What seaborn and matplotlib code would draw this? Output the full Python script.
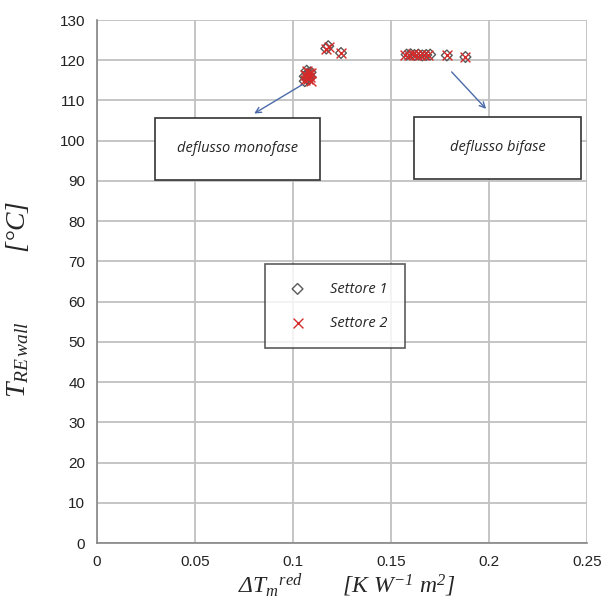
import numpy as np
import pandas as pd
import matplotlib
matplotlib.use("Agg")
import matplotlib.pyplot as plt
import seaborn as sns
from matplotlib.patches import Rectangle

# values
s1_x = [0.106, 0.107, 0.108, 0.109, 0.107, 0.108, 0.106, 0.109, 0.1075,
        0.117, 0.118, 0.1245,
        0.158, 0.160, 0.162, 0.164, 0.166, 0.168, 0.170, 0.1785, 0.188]
s1_y = [114.8, 115.5, 116.3, 117.0, 117.4, 115.2, 116.0, 115.8, 116.7,
        122.9, 123.5, 121.8,
        121.4, 121.5, 121.3, 121.4, 121.2, 121.3, 121.4, 121.2, 120.8]
s2_x = [0.106, 0.1075, 0.108, 0.109, 0.107, 0.1085, 0.106, 0.109, 0.107,
        0.117, 0.1185, 0.1245,
        0.157, 0.159, 0.161, 0.163, 0.165, 0.167, 0.169, 0.1785, 0.188]
s2_y = [115.0, 115.3, 116.8, 116.9, 117.3, 115.9, 116.4, 114.9, 116.0,
        122.8, 123.4, 121.8,
        121.3, 121.4, 121.5, 121.2, 121.4, 121.2, 121.3, 121.2, 120.8]

x_ticks = [0, 0.05, 0.1, 0.15, 0.2, 0.25]
y_ticks = list(range(0, 131, 10))

sns.set_style("white")
plt.rcParams["font.family"] = ["Liberation Sans", "DejaVu Sans"]
plt.rcParams["mathtext.fontset"] = "custom"
plt.rcParams["mathtext.it"] = "Liberation Serif:italic"
plt.rcParams["mathtext.rm"] = "Liberation Serif:italic"

fig = plt.figure(figsize=(6.06, 6.10), dpi=100)
ax = fig.add_axes([0.160, 0.1098, 0.8086, 0.8574])

# Grafico
sns.scatterplot(x=s1_x, y=s1_y, ax=ax, marker="D", s=30,
                facecolor="none", edgecolor="#595959", linewidth=1.0,
                label="Settore 1", zorder=3)
sns.scatterplot(x=s2_x, y=s2_y, ax=ax, marker="x", s=50,
                color="#d42a2a", linewidth=1.0, label="Settore 2", zorder=4)

ax.set_xlim(0, 0.25)
ax.set_ylim(0, 130)
ax.set_xticks(x_ticks)
ax.set_xticklabels([f"{t:g}" for t in x_ticks])
ax.set_yticks(y_ticks)
ax.grid(True, color="#c0c0c0", linewidth=1.3)
ax.set_axisbelow(True)
for side in ["top", "right"]:
    ax.spines[side].set_visible(False)
for side in ["left", "bottom"]:
    ax.spines[side].set_color("#868686")
    ax.spines[side].set_linewidth(1.2)
ax.tick_params(axis="both", length=5, width=1.2, color="#868686",
               labelsize=11, labelcolor="#222222", direction="out")

serif_it = dict(family=["Liberation Serif", "DejaVu Serif"], style="italic")
ax.set_xlabel(r"ΔT$_m$$^{red}$       [K W$^{\mathrm{-1}}$ m$^2$]",
              fontsize=17, **serif_it)
ax.xaxis.set_label_coords(0.51, -0.055)
ax.set_ylabel(r"T$_{RE\,wall}$          [°C]", fontsize=20, **serif_it)
ax.yaxis.set_label_coords(-0.135, 0.465)

# annotation boxes
for (x0, x1, y0, txt) in [(0.0296, 0.1138, 90.2, "deflusso monofase"),
                          (0.162, 0.247, 90.5, "deflusso bifase")]:
    r = Rectangle((x0, y0), x1 - x0, 15.4, facecolor="white",
                  edgecolor="#333333", linewidth=1.2, zorder=5)
    ax.add_patch(r)
    ax.text((x0 + x1) / 2, y0 + 7.9, txt, ha="center", va="center",
            fontsize=10.5, style="italic", family=["Open Sans", "DejaVu Sans"],
            zorder=6)

ax.annotate("", xy=(0.079, 106.4), xytext=(0.106, 114.3),
            arrowprops=dict(arrowstyle="->", color="#4a6aa8", lw=1.0), zorder=6)
ax.annotate("", xy=(0.1995, 107.4), xytext=(0.180, 117.6),
            arrowprops=dict(arrowstyle="->", color="#4a6aa8", lw=1.0), zorder=6)

leg = ax.legend(loc="upper left", bbox_to_anchor=(0.329, 0.547),
                frameon=True, fancybox=False, edgecolor="#333333",
                borderpad=1.2, labelspacing=1.3, handletextpad=1.2,
                prop={"family": "Open Sans", "style": "italic", "size": 10.5})
leg.get_frame().set_linewidth(1.2)

fig.savefig("out.png", dpi=100)
